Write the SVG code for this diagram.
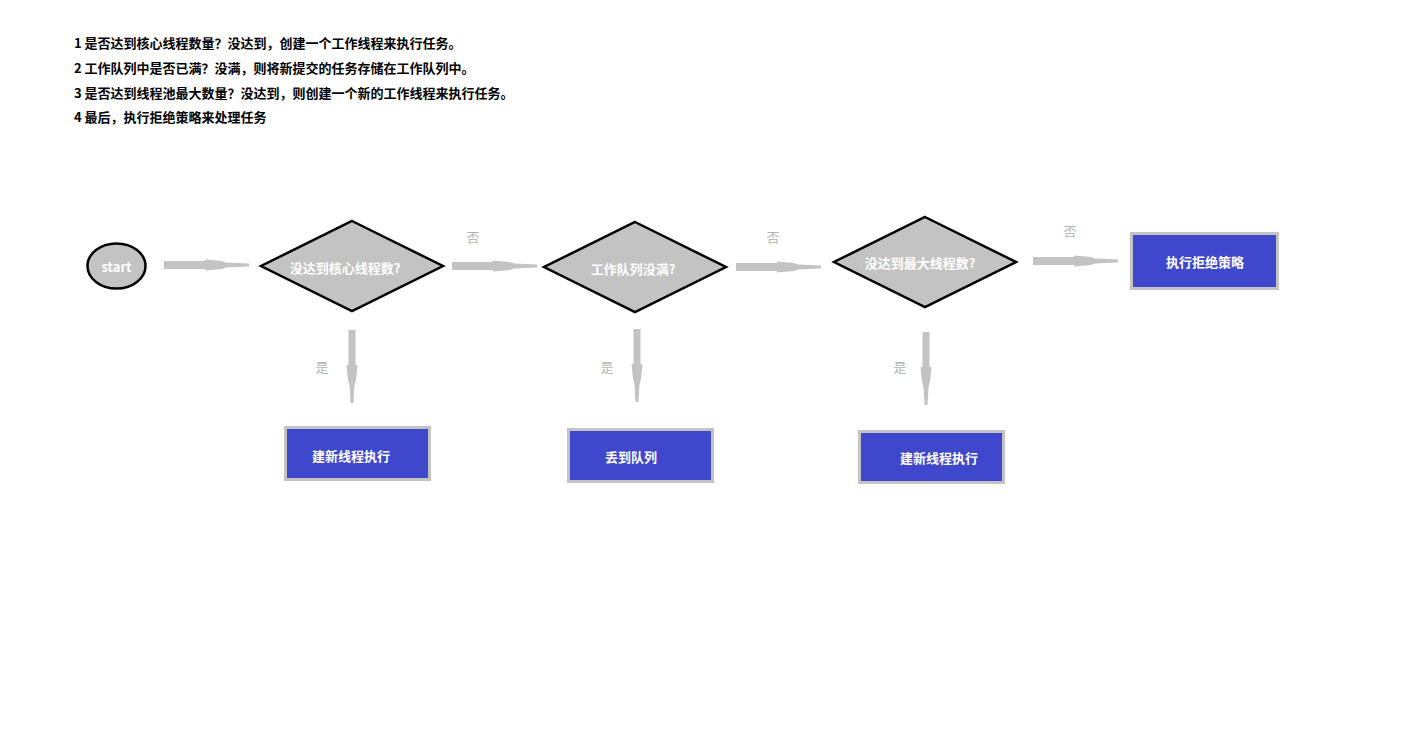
<svg xmlns="http://www.w3.org/2000/svg" xmlns:xlink="http://www.w3.org/1999/xlink" width="1411" height="736" viewBox="0 0 1411 736">
<style>
.note{font-family:"Noto Sans CJK SC","Liberation Sans",sans-serif;font-size:13px;font-weight:bold;fill:#000}
.lbl{font-family:"Noto Sans CJK SC","Liberation Sans",sans-serif;font-size:13px;font-weight:bold;fill:#fff;text-anchor:middle;dominant-baseline:central}
.edge{font-family:"Noto Sans CJK SC","Liberation Sans",sans-serif;font-size:13px;fill:#b4b4b4;text-anchor:middle;dominant-baseline:central}
.dia{fill:#c3c3c3;stroke:#000;stroke-width:2.5}
.box{fill:#3f48cc;stroke:#c3c3c3;stroke-width:3}
.arr{fill:#c3c3c3}
</style>
<defs>
<path id="ah" d="M0,-4 L41,-4 L41,-5.5 L58,-4 L62,-2.5 L85,-1.5 L85,1.5 L62,2.5 L58,4 L41,5.5 L41,4 L0,4 Z"/>
<path id="av" d="M-3.5,0 L-3.5,35 L-5.5,35 L-4,50 L-2.5,55 L-1.5,73 L1.5,73 L2.5,55 L4,50 L5.5,35 L3.5,35 L3.5,0 Z"/>
</defs>
<rect width="1411" height="736" fill="#fff"/>
<g id="notes">
<text class="note" x="74" y="48">1 是否达到核心线程数量？没达到，创建一个工作线程来执行任务。</text>
<text class="note" x="74" y="73">2 工作队列中是否已满？没满，则将新提交的任务存储在工作队列中。</text>
<text class="note" x="74" y="98">3 是否达到线程池最大数量？没达到，则创建一个新的工作线程来执行任务。</text>
<text class="note" x="74" y="122">4 最后，执行拒绝策略来处理任务</text>
</g>
<g id="connectors" class="arr">
<use xlink:href="#ah" x="164" y="265"/>
<use xlink:href="#ah" x="452" y="266"/>
<use xlink:href="#ah" x="736" y="267"/>
<use xlink:href="#ah" x="1033" y="261"/>
<use xlink:href="#av" x="352" y="330"/>
<use xlink:href="#av" x="637" y="329"/>
<use xlink:href="#av" x="926" y="332"/>
<text class="edge" x="473" y="236">否</text>
<text class="edge" x="773" y="236">否</text>
<text class="edge" x="1070" y="230">否</text>
<text class="edge" x="322" y="366">是</text>
<text class="edge" x="607" y="366">是</text>
<text class="edge" x="900" y="366">是</text>
</g>
<g id="start">
<ellipse cx="116.5" cy="266" rx="29" ry="22.5" fill="#c3c3c3" stroke="#000" stroke-width="2.5"/>
<text class="lbl" x="116.5" y="266">start</text>
</g>
<g id="d1">
<polygon class="dia" points="352,221 443,266 352,311 261,266"/>
<text class="lbl" x="345" y="267">没达到核心线程数?</text>
</g>
<g id="d2">
<polygon class="dia" points="635,222 726,267 635,312 544,267"/>
<text class="lbl" x="633" y="268">工作队列没满?</text>
</g>
<g id="d3">
<polygon class="dia" points="925,217 1016,262 925,307 834,262"/>
<text class="lbl" x="920" y="262">没达到最大线程数?</text>
</g>
<g id="r4">
<rect class="box" x="1131.5" y="233.5" width="146" height="55"/>
<text class="lbl" x="1205" y="261">执行拒绝策略</text>
</g>
<g id="r1">
<rect class="box" x="285.5" y="427.5" width="144" height="52"/>
<text class="lbl" x="351" y="455">建新线程执行</text>
</g>
<g id="r2">
<rect class="box" x="568.5" y="429.5" width="144" height="52"/>
<text class="lbl" x="631" y="456">丢到队列</text>
</g>
<g id="r3">
<rect class="box" x="859.5" y="431.5" width="144" height="51"/>
<text class="lbl" x="939" y="457">建新线程执行</text>
</g>
</svg>
